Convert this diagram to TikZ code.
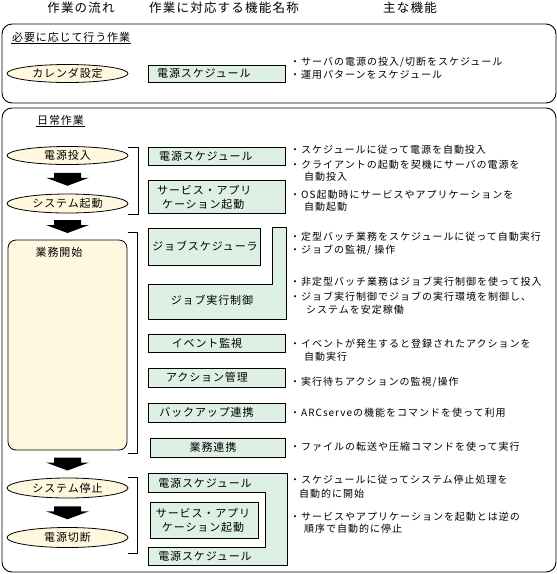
\documentclass[tikz,border=0pt]{standalone}
\usepackage{fontspec}
\setmainfont{Noto Sans CJK JP}
\newfontfamily\hdfont[LetterSpace=10]{Noto Sans CJK JP}
\newfontfamily\bxfont[LetterSpace=8]{Noto Sans CJK JP}
\newfontfamily\dsfont[LetterSpace=10]{Noto Sans CJK JP}
\usetikzlibrary{shapes.geometric,calc}
\definecolor{cream}{RGB}{255,248,222}
\definecolor{pale}{RGB}{222,240,228}
\tikzset{
  frame/.style={draw,line width=0.9pt,rounded corners=10pt},
  hdtext/.style={inner sep=0pt,font={\hdfont\fontsize{12.5}{14}\selectfont}},
  ttl/.style={inner sep=1pt,anchor=west,font={\bxfont\fontsize{11}{13}\selectfont}},
  flowell/.style={ellipse,draw,fill=cream,line width=0.8pt,minimum width=121pt,minimum height=18pt,inner sep=0pt,font={\bxfont\fontsize{11}{13}\selectfont}},
  flowrect/.style={draw,fill=cream,line width=0.8pt,rounded corners=8pt,inner sep=0pt},
  gbox/.style={draw,fill=pale,line width=0.8pt,inner sep=0pt},
  gshape/.style={draw,fill=pale,line width=0.8pt},
  btext/.style={inner sep=0pt,font={\bxfont\fontsize{11}{14}\selectfont}},
  desc/.style={inner sep=0pt,anchor=west,font={\dsfont\fontsize{10}{12}\selectfont}},
  brk/.style={draw,line width=0.8pt},
}
\newcommand\blockarrow[2]{%
  \path (#1.south) -- (#2.north) coordinate[pos=0.5] (#1-#2-m);
  \fill ($(#1-#2-m)+(-13.5,-6.5)$) -- ++(27,0) -- ++(0,5) -- ++(8,0)
    -- ($(#1-#2-m)+(0,6.5)$) -- ($(#1-#2-m)+(-21.5,-1.5)$) -- ++(8,0) -- cycle;
}
\begin{document}
\begin{tikzpicture}[x=1pt,y=-1pt]
\useasboundingbox (0,0) rectangle (557,574);
% headers
\node[hdtext] (h1) at (81,8) {作業の流れ};
\node[hdtext] (h2) at (224,8) {作業に対応する機能名称};
\node[hdtext] (h3) at (410,8) {主な機能};
% frames
\draw[frame] (2,24) rectangle (556,103);
\draw[frame] (2,108) rectangle (556,572);
% section titles
\node[ttl] (t1) at (11,37) {必要に応じて行う作業};
\draw[line width=0.8pt] (t1.south west) -- (t1.south east);
\node[ttl] (t2) at (36,120) {日常作業};
\draw[line width=0.8pt] (t2.south west) -- (t2.south east);
% ---- section 1
\node[flowell] (cal) at (67.5,73.5) {カレンダ設定};
\node[gbox,minimum width=137pt,minimum height=17pt] (calps) at (216.5,73.5) {};
\node[btext,anchor=west] (calpst) at (157,73.5) {電源スケジュール};
\node[desc] (d1) at (290,62) {・サーバの電源の投入/切断をスケジュール};
\node[desc] (d2) at (290,75) {・運用パターンをスケジュール};
% ---- flow column
\node[flowell] (pon) at (67.5,155.5) {電源投入};
\node[flowell,minimum height=19pt] (sys) at (67.5,203.5) {システム起動};
\node[flowrect,minimum width=119pt,minimum height=210pt] (biz) at (67.5,345) {};
\node[btext] (bizt) at (59,252) {業務開始};
\node[flowell,minimum height=20pt] (stop) at (67.5,488) {システム停止};
\node[flowell,minimum height=20pt] (poff) at (67.5,537.5) {電源切断};
\blockarrow{pon}{sys}
\blockarrow{sys}{biz}
\blockarrow{biz}{stop}
\blockarrow{stop}{poff}
% brackets
\draw[brk] (128,147) -- (138,147) -- (138,214) -- (128,214);
\draw[brk] (128,232) -- (137,232) -- (137,453) -- (128,453);
\draw[brk] (128,477) -- (137,477) -- (137,553) -- (128,553);
% ---- function column
\node[gbox,minimum width=137pt,minimum height=18pt] (ps1) at (216.5,156) {};
\node[btext,anchor=west] (ps1t) at (159,156) {電源スケジュール};
\node[gbox,minimum width=137pt,minimum height=33pt] (svc1) at (216.5,196.5) {};
\node[btext,anchor=west,align=left] (svc1t) at (157,197) {サービス・アプリ\\\hspace*{5pt}ケーション起動};
\node[gbox,minimum width=112pt,minimum height=37pt] (jsch) at (204,246.5) {};
\node[btext] (jscht) at (205,246.5) {ジョブスケジューラ};
\draw[gshape] (148,284) -- (272,284) -- (272,227) -- (286,227) -- (286,319) -- (148,319) -- cycle;
\node[btext] (jexe) at (212,300) {ジョブ実行制御};
\node[gbox,minimum width=137pt,minimum height=18pt] (ev) at (216.5,343) {};
\node[btext] (evt) at (207,343) {イベント監視};
\node[gbox,minimum width=137pt,minimum height=19pt] (act) at (216.5,377.5) {};
\node[btext] (actt) at (207,377.5) {アクション管理};
\node[gbox,minimum width=137pt,minimum height=19pt] (bak) at (216.5,412.5) {};
\node[btext] (bakt) at (206.5,412.5) {バックアップ連携};
\node[gbox,minimum width=135pt,minimum height=19pt] (lnk) at (217.5,447.5) {};
\node[btext] (lnkt) at (213,447.5) {業務連携};
\draw[gshape] (148,473) -- (287,473) -- (287,565) -- (148,565) -- (148,547) -- (265,547) -- (265,492) -- (148,492) -- cycle;
\node[btext] (ps2t) at (205,483) {電源スケジュール};
\node[btext] (ps3t) at (205,556) {電源スケジュール};
\node[gbox,minimum width=108pt,minimum height=36pt] (svc2) at (204,520) {};
\node[btext,align=center] (svc2t) at (203,520.5) {サービス・アプリ\\ケーション起動};
% ---- descriptions
\node[desc] (d3) at (290,150) {・スケジュールに従って電源を自動投入};
\node[desc] (d4) at (290,165) {・クライアントの起動を契機にサーバの電源を};
\node[desc] (d5) at (304,177) {自動投入};
\node[desc] (d6) at (290,195) {・OS起動時にサービスやアプリケーションを};
\node[desc] (d7) at (304,207) {自動起動};
\node[desc] (d8) at (290,237) {・定型バッチ業務をスケジュールに従って自動実行};
\node[desc] (d9) at (290,250) {・ジョブの監視/ 操作};
\node[desc] (d10) at (290,282) {・非定型バッチ業務はジョブ実行制御を使って投入};
\node[desc] (d11) at (290,297) {・ジョブ実行制御でジョブの実行環境を制御し、};
\node[desc] (d12) at (306,310) {システムを安定稼働};
\node[desc] (d13) at (290,344) {・イベントが発生すると登録されたアクションを};
\node[desc] (d14) at (304,357) {自動実行};
\node[desc] (d15) at (290,382) {・実行待ちアクションの監視/操作};
\node[desc] (d16) at (290,413) {・ARCserveの機能をコマンドを使って利用};
\node[desc] (d17) at (290,447) {・ファイルの転送や圧縮コマンドを使って実行};
\node[desc] (d18) at (290,480) {・スケジュールに従ってシステム停止処理を};
\node[desc] (d19) at (299,494) {自動的に開始};
\node[desc] (d20) at (290,517) {・サービスやアプリケーションを起動とは逆の};
\node[desc] (d21) at (304,529) {順序で自動的に停止};
\end{tikzpicture}
\end{document}
